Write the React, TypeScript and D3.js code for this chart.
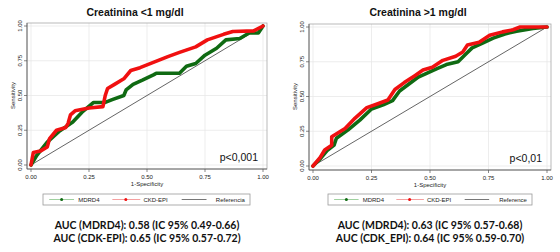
import React from "react";
import * as d3 from "d3";

const ticks = [0, 0.25, 0.5, 0.75, 1];
const tickLabels = ["0.00", "0.25", "0.50", "0.75", "1.00"];

const leftTitle = "Creatinina <1 mg/dl";
const rightTitle = "Creatinina >1 mg/dl";
const leftP = "p<0,001";
const rightP = "p<0,01";
const leftLegend = ["MDRD4", "CKD-EPI", "Referencia"];
const rightLegend = ["MDRD4", "CKD-EPI", "Reference"];
const leftAuc = ["AUC (MDRD4): 0.58 (IC 95% 0.49-0.66)", "AUC (CDK-EPI): 0.65 (IC 95% 0.57-0.72)"];
const rightAuc = ["AUC (MDRD4): 0.63 (IC 95% 0.57-0.68)", "AUC (CDK_EPI): 0.64 (IC 95% 0.59-0.70)"];

const leftMdrd: [number, number][] = [
  [0, 0], [0.025, 0.07], [0.07, 0.165], [0.12, 0.24], [0.18, 0.31], [0.22, 0.38], [0.27, 0.45],
  [0.32, 0.45], [0.35, 0.47], [0.4, 0.5], [0.41, 0.54], [0.44, 0.58], [0.48, 0.61], [0.53, 0.65],
  [0.54, 0.66], [0.64, 0.66], [0.67, 0.71], [0.71, 0.73], [0.75, 0.79], [0.8, 0.84], [0.84, 0.9],
  [0.9, 0.91], [0.94, 0.95], [0.98, 0.95], [1, 1],
];
const leftCkd: [number, number][] = [
  [0, 0], [0.01, 0.09], [0.04, 0.1], [0.07, 0.13], [0.08, 0.19], [0.11, 0.25], [0.15, 0.27],
  [0.16, 0.3], [0.17, 0.36], [0.19, 0.39], [0.25, 0.41], [0.31, 0.42], [0.32, 0.5], [0.33, 0.55],
  [0.36, 0.58], [0.4, 0.62], [0.43, 0.68], [0.47, 0.7], [0.53, 0.74], [0.59, 0.78], [0.64, 0.81],
  [0.71, 0.85], [0.76, 0.9], [0.83, 0.94], [0.87, 0.96], [0.96, 0.965], [1, 1],
];
const rightMdrd: [number, number][] = [
  [0, 0], [0.03, 0.05], [0.06, 0.11], [0.09, 0.15], [0.1, 0.2], [0.15, 0.26], [0.2, 0.33],
  [0.25, 0.41], [0.3, 0.44], [0.34, 0.47], [0.37, 0.54], [0.41, 0.59], [0.45, 0.64], [0.49, 0.67],
  [0.53, 0.7], [0.57, 0.73], [0.62, 0.75], [0.65, 0.8], [0.68, 0.85], [0.72, 0.88], [0.77, 0.92],
  [0.82, 0.95], [0.87, 0.97], [0.94, 0.99], [1, 1],
];
const rightCkd: [number, number][] = [
  [0, 0], [0.03, 0.06], [0.05, 0.115], [0.08, 0.15], [0.08, 0.21], [0.137, 0.27], [0.18, 0.345],
  [0.23, 0.42], [0.28, 0.45], [0.32, 0.475], [0.35, 0.55], [0.39, 0.6], [0.435, 0.65], [0.47, 0.69],
  [0.51, 0.71], [0.555, 0.76], [0.61, 0.79], [0.64, 0.82], [0.66, 0.87], [0.71, 0.89], [0.755, 0.94],
  [0.81, 0.965], [0.855, 0.98], [0.885, 1.0], [1, 1],
];

const GREEN = "#0f6a12";
const RED = "#f01010";
const FONT = "'Liberation Sans', Arial, sans-serif";

type PanelProps = {
  x0: number; x1: number; y0: number; y1: number;
  title: string; p: string; legend: string[]; auc: string[];
  mdrd: [number, number][]; ckd: [number, number][];
  legX0: number; legX1: number;
};

function Panel(props: PanelProps) {
  const { x0, x1, y0, y1, title, p, legend, auc, mdrd, ckd, legX0, legX1 } = props;
  const x = d3.scaleLinear().domain([0, 1]).range([x0, x1]);
  const y = d3.scaleLinear().domain([0, 1]).range([y0, y1]);
  const line = d3.line<[number, number]>().x((d) => x(d[0])).y((d) => y(d[1]));
  const fl = x0 - 4, fr = x1 + 4, ft = y1 - 3, fb = y0 + 4;
  const cx = (x0 + x1) / 2;
  const legY = 199.5;
  const lw = legX1 - legX0;
  const it = (f: number) => legX0 + lw * f;
  return (
    <g>
      <text x={cx - 12} y={16} textAnchor="middle" fontFamily={FONT} fontWeight="bold" fontSize={10.5} fill="#111">{title}</text>
      {ticks.map((t, i) => (
        <g key={"g" + i}>
          <line x1={x(t)} x2={x(t)} y1={ft} y2={fb} stroke="#e8e8e8" strokeWidth={0.8} />
          <line x1={fl} x2={fr} y1={y(t)} y2={y(t)} stroke="#e8e8e8" strokeWidth={0.8} />
        </g>
      ))}
      <rect x={fl} y={ft} width={fr - fl} height={fb - ft} fill="none" stroke="#a8a8a8" strokeWidth={0.8} />
      <line x1={fl} x2={fl} y1={ft} y2={fb} stroke="#555" strokeWidth={0.8} />
      <line x1={fl} x2={fr} y1={fb} y2={fb} stroke="#555" strokeWidth={0.8} />
      {ticks.map((t, i) => (
        <g key={"t" + i}>
          <line x1={fl - 3} x2={fl} y1={y(t)} y2={y(t)} stroke="#555" strokeWidth={0.7} />
          <line x1={x(t)} x2={x(t)} y1={fb} y2={fb + 3} stroke="#555" strokeWidth={0.7} />
          <text x={x(t)} y={fb + 9.5} textAnchor="middle" fontFamily={FONT} fontSize={6} fill="#222">{tickLabels[i]}</text>
          <text transform={`translate(${fl - 5.5},${y(t)}) rotate(-90)`} textAnchor="middle" fontFamily={FONT} fontSize={6} fill="#222">{tickLabels[i]}</text>
        </g>
      ))}
      <text x={cx} y={fb + 17} textAnchor="middle" fontFamily={FONT} fontSize={6} fill="#222">1-Specificity</text>
      <text transform={`translate(${fl - 12.5},${(y0 + y1) / 2}) rotate(-90)`} textAnchor="middle" fontFamily={FONT} fontSize={6} fill="#222">Sensitivity</text>
      <line x1={x(0)} y1={y(0)} x2={x(1)} y2={y(1)} stroke="#222" strokeWidth={0.7} />
      <path d={line(mdrd) || ""} fill="none" stroke={GREEN} strokeWidth={3.6} strokeLinejoin="round" strokeLinecap="round" />
      <path d={line(ckd) || ""} fill="none" stroke={RED} strokeWidth={3.6} strokeLinejoin="round" strokeLinecap="round" />
      <text x={x1 - 5} y={y0 - 4} textAnchor="end" fontFamily={FONT} fontSize={10.5} fill="#111">{p}</text>
      <rect x={legX0} y={194} width={lw} height={11} fill="white" stroke="#999" strokeWidth={0.8} />
      <line x1={it(0.03)} x2={it(0.15)} y1={legY} y2={legY} stroke="#9fd09f" strokeWidth={1} />
      <circle cx={it(0.09)} cy={legY} r={1.5} fill={GREEN} />
      <text x={it(0.17)} y={legY + 2.2} fontFamily={FONT} fontSize={6} fill="#222">{legend[0]}</text>
      <line x1={it(0.335)} x2={it(0.47)} y1={legY} y2={legY} stroke="#f4a0a0" strokeWidth={1} />
      <circle cx={it(0.40)} cy={legY} r={1.5} fill={RED} />
      <text x={it(0.485)} y={legY + 2.2} fontFamily={FONT} fontSize={6} fill="#222">{legend[1]}</text>
      <line x1={it(0.67)} x2={it(0.79)} y1={legY} y2={legY} stroke="#777" strokeWidth={1} />
      <text x={it(0.975)} y={legY + 2.2} textAnchor="end" fontFamily={FONT} fontSize={6} fill="#222">{legend[2]}</text>
      <text x={cx} y={228.5} textAnchor="middle" fontFamily="Lato, sans-serif" fontWeight="bold" fontSize={10.5} fill="#111">{auc[0]}</text>
      <text x={cx} y={241.5} textAnchor="middle" fontFamily="Lato, sans-serif" fontWeight="bold" fontSize={10.5} fill="#111">{auc[1]}</text>
    </g>
  );
}

export default function App() {
  return (
    <svg width={560} height={252} style={{ position: "absolute", left: 0, top: 0, background: "white" }}>
      <rect x={0} y={0} width={560} height={252} fill="white" />
      <Panel x0={31} x1={263} y0={165} y1={26} title={leftTitle} p={leftP} legend={leftLegend} auc={leftAuc}
        mdrd={leftMdrd} ckd={leftCkd} legX0={43} legX1={250} />
      <Panel x0={313} x1={547} y0={166} y1={27} title={rightTitle} p={rightP} legend={rightLegend} auc={rightAuc}
        mdrd={rightMdrd} ckd={rightCkd} legX0={328} legX1={532} />
    </svg>
  );
}
